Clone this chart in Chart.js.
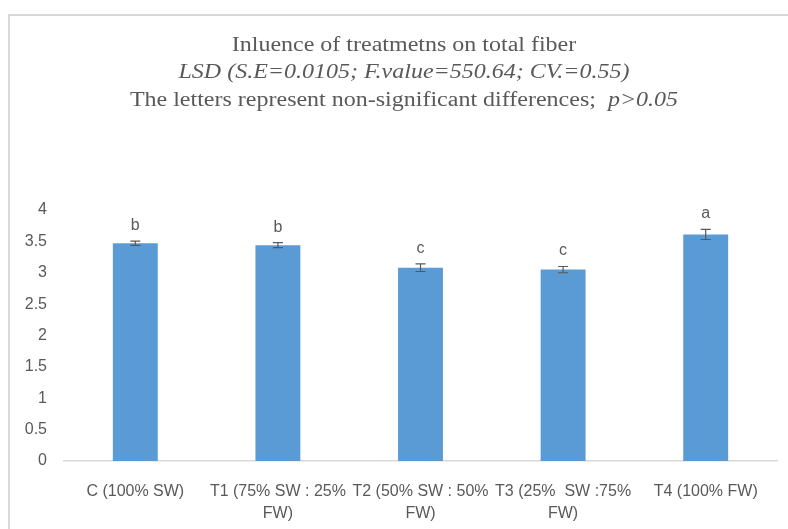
<!DOCTYPE html>
<html>
<head>
<meta charset="utf-8">
<script src="https://cdn.jsdelivr.net/npm/chart.js@4.4.1/dist/chart.umd.min.js"></script>
<style>
  html, body { margin: 0; padding: 0; background: #fff; }
  #wrap { width: 788px; height: 529px; position: relative; }
</style>
</head>
<body>
<div id="wrap"><canvas id="fiber-chart"></canvas></div>
<script>
// data
const categories = [
    ['C (100% SW)'],
    ['T1 (75% SW : 25%', 'FW)'],
    ['T2 (50% SW : 50%', 'FW)'],
    ['T3 (25%  SW :75%', 'FW)'],
    ['T4 (100% FW)']
];
const fiberValues = [3.47, 3.44, 3.08, 3.05, 3.61];
const errorValues = [0.035, 0.04, 0.06, 0.05, 0.08];
const letters = ['b', 'b', 'c', 'c', 'a'];
const yTicks = [0, 0.5, 1, 1.5, 2, 2.5, 3, 3.5, 4];

const titleLines = [
    'Inluence of treatmetns on total fiber',
    'LSD (S.E=0.0105; F.value=550.64; CV.=0.55)'
];
const titleLine3 = ['The letters represent non-significant differences;  ', 'p>0.05'];

const grey = '#595959';
const serif = '"Liberation Serif", "Times New Roman", serif';
const sans = '"Liberation Sans", Arial, sans-serif';

// border of the chart box + title text (the title is a bit wide in the original)
const frame = {
    id: 'frame',
    beforeDraw(chart) {
        const c = chart.ctx;
        c.save();
        c.strokeStyle = '#d9d9d9';
        c.lineWidth = 2;
        c.strokeRect(9, 15, 900, 700);
        c.fillStyle = grey;
        c.textBaseline = 'middle';
        const cx = 404;
        const sx = 1.2;
        c.translate(cx, 0);
        c.scale(sx, 1);
        c.textAlign = 'center';
        c.font = '20px ' + serif;
        c.fillText(titleLines[0], 0, 46);
        c.font = 'italic 20px ' + serif;
        c.fillText(titleLines[1], 0, 73);
        // third line mixes normal and italic text
        c.font = '20px ' + serif;
        const w1 = c.measureText(titleLine3[0]).width;
        c.font = 'italic 20px ' + serif;
        const w2 = c.measureText(titleLine3[1]).width;
        const x = -(w1 + w2) / 2;
        c.textAlign = 'left';
        c.font = '20px ' + serif;
        c.fillText(titleLine3[0], x, 101);
        c.font = 'italic 20px ' + serif;
        c.fillText(titleLine3[1], x + w1, 101);
        c.restore();
    }
};

// error bars and significance letters
const errBars = {
    id: 'errBars',
    afterDatasetsDraw(chart) {
        const c = chart.ctx;
        const xs = chart.scales.x, ys = chart.scales.y;
        c.save();
        c.strokeStyle = grey;
        c.lineWidth = 1.2;
        c.fillStyle = grey;
        c.font = '16px ' + sans;
        c.textAlign = 'center';
        c.textBaseline = 'alphabetic';
        fiberValues.forEach((v, i) => {
            const x = xs.getPixelForValue(i);
            const yHi = ys.getPixelForValue(v + errorValues[i]);
            const yLo = ys.getPixelForValue(v - errorValues[i]);
            c.beginPath();
            c.moveTo(x, yHi); c.lineTo(x, yLo);
            c.moveTo(x - 5, yHi); c.lineTo(x + 5, yHi);
            c.moveTo(x - 5, yLo); c.lineTo(x + 5, yLo);
            c.stroke();
            c.fillText(letters[i], x, yHi - 11);
        });
        c.restore();
    }
};

const ctx = document.getElementById('fiber-chart').getContext('2d');
const myChart = new Chart(ctx, {
    type: 'bar',
    data: {
        labels: categories,
        datasets: [{
            label: 'Total fiber',
            data: fiberValues,
            backgroundColor: '#5b9bd5',
            borderWidth: 0,
            barPercentage: 0.63,
            categoryPercentage: 0.5
        }]
    },
    options: {
        responsive: true,
        maintainAspectRatio: false,
        animation: false,
        layout: { padding: { top: 210, right: 11, left: 0, bottom: 0 } },
        plugins: {
            legend: { display: false },
            tooltip: { enabled: false }
        },
        scales: {
            x: {
                grid: { display: false, drawTicks: false },
                border: { color: '#d9d9d9', width: 1.5 },
                ticks: {
                    color: grey,
                    font: { family: sans, size: 16, lineHeight: 1.4 },
                    maxRotation: 0,
                    autoSkip: false,
                    padding: 19
                },
                afterFit(scale) { scale.height = 68; }
            },
            y: {
                min: 0,
                max: 4,
                afterBuildTicks(scale) {
                    scale.ticks = yTicks.map(v => ({ value: v }));
                },
                grid: { display: false, drawTicks: false },
                border: { display: false },
                ticks: {
                    color: grey,
                    font: { family: sans, size: 16 },
                    padding: 17,
                    callback: v => String(v)
                },
                afterFit(scale) { scale.width = 64; }
            }
        }
    },
    plugins: [frame, errBars]
});
</script>
</body>
</html>
